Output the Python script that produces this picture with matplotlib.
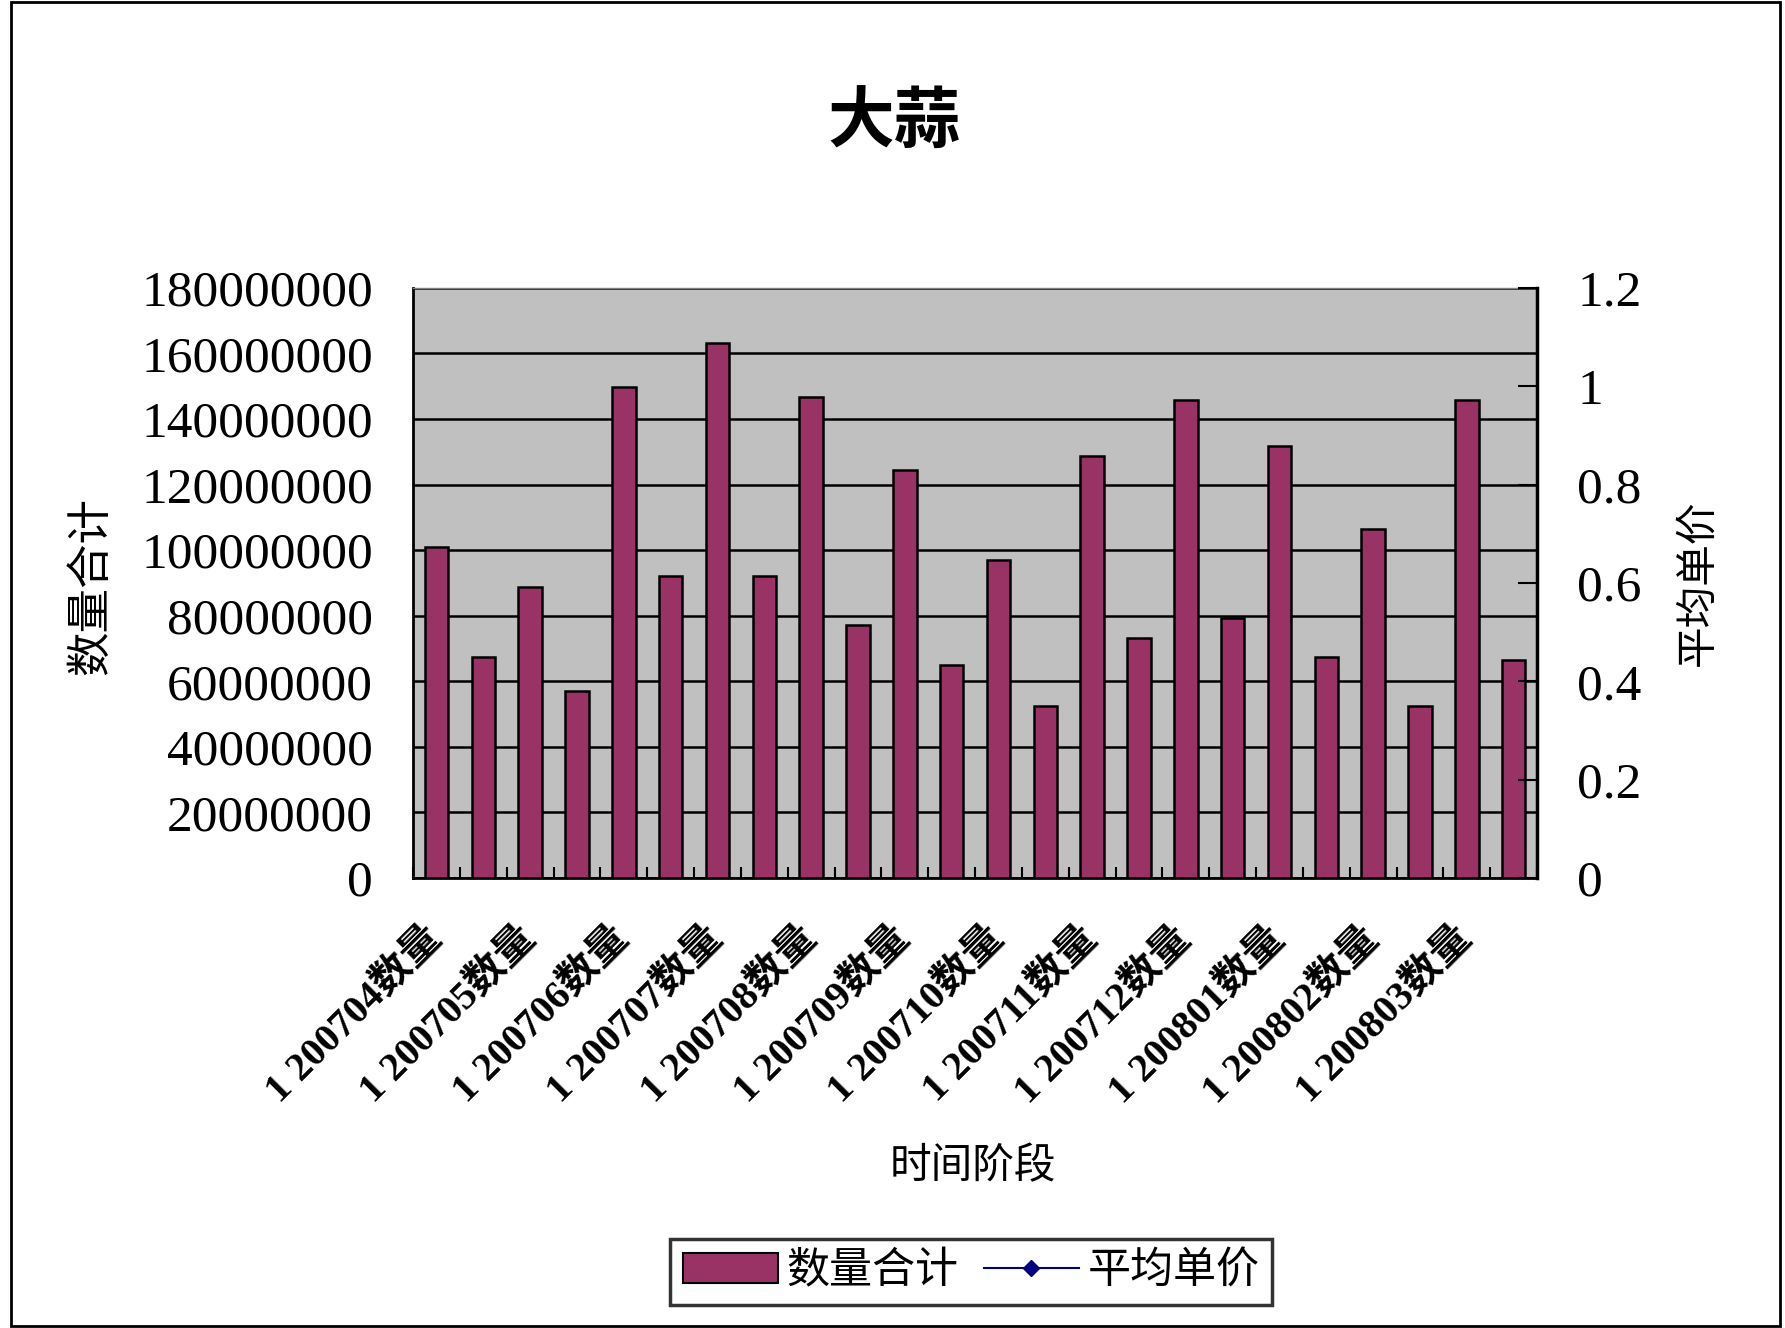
import numpy as np
import matplotlib
matplotlib.use("Agg")
import matplotlib.pyplot as plt
from matplotlib.patches import Rectangle, Patch
from matplotlib.lines import Line2D

plt.rcParams['font.family'] = ['Liberation Serif', 'Noto Sans CJK SC', 'DejaVu Sans']

# data
title = "大蒜"
months = ["200704", "200705", "200706", "200707", "200708", "200709",
          "200710", "200711", "200712", "200801", "200802", "200803"]
tick_labels = ["1 " + m + "数量" for m in months]
quantity = [101e6, 67.3e6, 88.8e6, 56.9e6, 149.9e6, 92.0e6,
            163.1e6, 92.0e6, 146.6e6, 77.3e6, 124.6e6, 64.9e6,
            96.9e6, 52.6e6, 128.7e6, 73.1e6, 145.7e6, 79.2e6,
            131.7e6, 67.3e6, 106.5e6, 52.6e6, 145.7e6, 66.6e6]
avg_price = [np.nan] * len(quantity)  # no visible points in the source
left_ticks = [0, 20000000, 40000000, 60000000, 80000000, 100000000,
              120000000, 140000000, 160000000, 180000000]
right_ticks = [0, 0.2, 0.4, 0.6, 0.8, 1, 1.2]
right_tick_labels = ["0", "0.2", "0.4", "0.6", "0.8", "1", "1.2"]

bar_color = "#993366"
line_color = "#000080"

fig = plt.figure(figsize=(17.85, 13.28), dpi=100)
fig.patches.append(Rectangle((0.006, 0.0015), 0.991, 0.997, transform=fig.transFigure,
                             fill=False, edgecolor="black", linewidth=2))

ax = fig.add_axes([0.2314, 0.3389, 0.6297, 0.4443])
ax.set_facecolor("#C0C0C0")
x = np.arange(len(quantity))
ax.bar(x, quantity, width=0.5, color=bar_color, edgecolor="black", linewidth=1.8, zorder=3)
ax.set_xlim(-0.5, len(quantity) - 0.5)
ax.set_ylim(0, 180000000)
ax.set_yticks(left_ticks)
ax.set_yticklabels([str(v) for v in left_ticks])
ax.yaxis.grid(True, color="black", linewidth=1.8, zorder=1)
ax.set_axisbelow(True)
ax.tick_params(axis="y", length=0, pad=29, labelsize=37)

ax.set_xticks(x[::2])
ax.set_xticklabels(tick_labels, rotation=45, ha="right", va="center",
                   rotation_mode="anchor", fontsize=29, fontweight="bold")
ax.set_xticks(np.arange(len(quantity) + 1) - 0.5, minor=True)
ax.tick_params(axis="x", which="major", length=0, pad=40)
ax.tick_params(axis="x", which="minor", direction="in", length=8, width=1.5)

for s in ["left", "bottom"]:
    ax.spines[s].set_linewidth(2)
    ax.spines[s].set_color("black")
ax.spines["top"].set_color("#808080")
ax.spines["top"].set_linewidth(1)

ax2 = ax.twinx()
ax2.plot(x, avg_price, color=line_color, marker="D", markersize=8, linewidth=1.5)
ax2.set_ylim(0, 1.2)
ax2.set_yticks(right_ticks)
ax2.set_yticklabels(right_tick_labels)
ax2.tick_params(axis="y", direction="in", length=14, width=1.5, pad=29, labelsize=37)
ax2.spines["right"].set_linewidth(2.5)
ax2.spines["top"].set_visible(False)
ax2.spines["left"].set_visible(False)
ax2.spines["bottom"].set_visible(False)

fig.text(0.501, 0.906, title, ha="center", va="center", fontsize=48, fontweight="bold")
fig.text(0.051, 0.559, "数量合计", ha="center", va="center", rotation=90, fontsize=32)
fig.text(0.952, 0.561, "平均单价", ha="center", va="center", rotation=90, fontsize=30)
fig.text(0.545, 0.121, "时间阶段", ha="center", va="center", fontsize=30)

handles = [Patch(facecolor=bar_color, edgecolor="black", linewidth=1.5),
           Line2D([0], [0], color=line_color, marker="D", markersize=8, linewidth=1.5)]
leg = fig.legend(handles, ["数量合计", "平均单价"], loc="center", bbox_to_anchor=(0.544, 0.042),
                 ncol=2, fontsize=31, frameon=True, fancybox=False, handlelength=2.2,
                 handletextpad=0.2, columnspacing=0.6, borderpad=0.3)
leg.get_frame().set_edgecolor("black")
leg.get_frame().set_linewidth(2.5)

fig.savefig("out.png", dpi=100)
